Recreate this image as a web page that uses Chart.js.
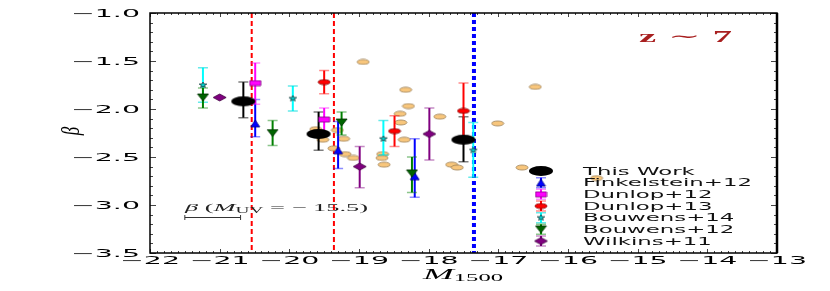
<!DOCTYPE html>
<html>
<head>
<meta charset="utf-8">
<script src="https://cdn.jsdelivr.net/npm/chart.js"></script>
<style>
  html, body { margin: 0; padding: 0; background: #fff; }
  #wrap { width: 830px; height: 291px; }
</style>
</head>
<body>
<div id="wrap"><canvas id="betaChart" width="830" height="291"></canvas></div>
<script>
// UV slope beta against M1500 at z ~ 7

// axes
const xMin = -22, xMax = -13;
const yMin = -3.5, yMax = -1.0;
const xTickValues = [-22, -21, -20, -19, -18, -17, -16, -15, -14, -13];
const xTickLabels = ['−22', '−21', '−20', '−19', '−18', '−17', '−16', '−15', '−14', '−13'];
const yTickValues = [-1.0, -1.5, -2.0, -2.5, -3.0, -3.5];
const yTickLabels = ['−1.0', '−1.5', '−2.0', '−2.5', '−3.0', '−3.5'];

// This Work
const thisWorkM = [-20.66, -19.58, -17.50];
const thisWorkBeta = [-1.92, -2.26, -2.32];
const thisWorkHi = [-1.72, -2.03, -2.08];
const thisWorkLo = [-2.09, -2.43, -2.55];

// Finkelstein+12
const fink12M = [-20.49, -19.30, -18.20];
const fink12Beta = [-2.15, -2.43, -2.70];
const fink12Hi = [-1.90, -2.13, -2.31];
const fink12Lo = [-2.29, -2.62, -2.92];

// Dunlop+12
const dun12M = [-20.49, -19.50];
const dun12Beta = [-1.73, -2.11];
const dun12Hi = [-1.52, -1.99];
const dun12Lo = [-1.95, -2.25];

// Dunlop+13
const dun13M = [-19.50, -18.49, -17.50];
const dun13Beta = [-1.72, -2.23, -2.02];
const dun13Hi = [-1.60, -2.07, -1.73];
const dun13Lo = [-1.84, -2.39, -2.30];

// Bouwens+14
const bou14M = [-21.24, -19.95, -18.65, -17.36];
const bou14Beta = [-1.75, -1.89, -2.31, -2.43];
const bou14Hi = [-1.57, -1.76, -2.12, -2.14];
const bou14Lo = [-1.93, -2.02, -2.48, -2.71];

// Bouwens+12
const bou12M = [-21.24, -20.24, -19.25, -18.24];
const bou12Beta = [-1.88, -2.25, -2.14, -2.67];
const bou12Hi = [-1.78, -2.12, -2.03, -2.50];
const bou12Lo = [-1.99, -2.38, -2.27, -2.87];

// Wilkins+11
const wil11M = [-21.00, -18.99, -17.99];
const wil11Beta = [-1.88, -2.60, -2.26];
const wil11Hi = [-1.88, -2.39, -1.99];
const wil11Lo = [-1.88, -2.82, -2.53];

// individual galaxies
const galM = [-18.94, -18.33, -18.29, -18.41, -18.40, -17.84, -18.35, -16.47, -17.01, -19.62, -19.52, -19.31,
              -19.22, -19.36, -19.20, -19.08, -18.66, -18.67, -18.64, -17.67, -17.59, -16.66, -15.59];
const galBeta = [-1.51, -1.80, -1.97, -2.05, -2.14, -2.08, -2.32, -1.77, -2.15, -2.21, -2.32, -2.22,
                 -2.31, -2.41, -2.47, -2.51, -2.47, -2.51, -2.58, -2.58, -2.61, -2.61, -2.72];

// vertical limits
const redLimits = [-20.54, -19.36];
const blueLimit = -17.35;

// systematic bar at M_UV = -15.5
const sysM = [-21.50, -20.70];
const sysBeta = -3.13;

function marker(shape, w, h, fill, edge) {
  const c = document.createElement('canvas');
  c.width = w + 2; c.height = h + 2;
  const g = c.getContext('2d');
  const cx = c.width / 2, cy = c.height / 2;
  g.beginPath();
  if (shape === 'ellipse') {
    g.ellipse(cx, cy, w / 2, h / 2, 0, 0, Math.PI * 2);
  } else if (shape === 'rect') {
    g.rect(cx - w / 2, cy - h / 2, w, h);
  } else if (shape === 'up') {
    g.moveTo(cx, cy - h / 2); g.lineTo(cx + w / 2, cy + h / 2); g.lineTo(cx - w / 2, cy + h / 2); g.closePath();
  } else if (shape === 'down') {
    g.moveTo(cx, cy + h / 2); g.lineTo(cx + w / 2, cy - h / 2); g.lineTo(cx - w / 2, cy - h / 2); g.closePath();
  } else if (shape === 'diamond') {
    g.moveTo(cx, cy - h / 2); g.lineTo(cx + w / 2, cy); g.lineTo(cx, cy + h / 2); g.lineTo(cx - w / 2, cy); g.closePath();
  } else if (shape === 'star') {
    for (let i = 0; i < 10; i++) {
      const r = i % 2 === 0 ? 1 : 0.45;
      const a = -Math.PI / 2 + i * Math.PI / 5;
      const px = cx + Math.cos(a) * r * w / 2, py = cy + Math.sin(a) * r * h / 2;
      if (i === 0) g.moveTo(px, py); else g.lineTo(px, py);
    }
    g.closePath();
  }
  g.fillStyle = fill; g.fill();
  if (edge) { g.strokeStyle = edge; g.lineWidth = 0.8; g.stroke(); }
  return c;
}

const series = [
  { label: 'This Work', M: thisWorkM, beta: thisWorkBeta, hi: thisWorkHi, lo: thisWorkLo,
    line: '#000000', cap: 'rgba(0,0,0,0.5)', style: marker('ellipse', 24, 10, '#000000', null) },
  { label: 'Finkelstein+12', M: fink12M, beta: fink12Beta, hi: fink12Hi, lo: fink12Lo,
    line: '#0000ff', cap: 'rgba(0,0,255,0.45)', style: marker('up', 9, 7, '#0000ff', '#000080') },
  { label: 'Dunlop+12', M: dun12M, beta: dun12Beta, hi: dun12Hi, lo: dun12Lo,
    line: '#ff00ff', cap: 'rgba(255,0,255,0.45)', style: marker('rect', 11, 5, '#ff00ff', '#800080') },
  { label: 'Dunlop+13', M: dun13M, beta: dun13Beta, hi: dun13Hi, lo: dun13Lo,
    line: '#ff0000', cap: 'rgba(255,0,0,0.45)', style: marker('ellipse', 12, 5, '#ff0000', '#800000') },
  { label: 'Bouwens+14', M: bou14M, beta: bou14Beta, hi: bou14Hi, lo: bou14Lo,
    line: '#00ffff', cap: 'rgba(0,220,220,0.6)', style: marker('star', 8, 6, '#00c8c8', '#204040') },
  { label: 'Bouwens+12', M: bou12M, beta: bou12Beta, hi: bou12Hi, lo: bou12Lo,
    line: '#008000', cap: 'rgba(0,128,0,0.45)', style: marker('down', 11, 7, '#006400', '#003000') },
  { label: 'Wilkins+11', M: wil11M, beta: wil11Beta, hi: wil11Hi, lo: wil11Lo,
    line: '#800080', cap: 'rgba(128,0,128,0.45)', style: marker('diamond', 13, 7, '#800080', '#400040') }
];

const galStyle = marker('ellipse', 12, 5, '#f8c67c', '#9c8058');

const datasets = [];
redLimits.forEach(v => datasets.push({
  type: 'line', data: [{ x: v, y: yMax }, { x: v, y: yMin }],
  borderColor: '#ff0000', borderWidth: 2, borderDash: [5, 3], pointRadius: 0, order: 30
}));
datasets.push({
  type: 'line', data: [{ x: blueLimit, y: yMax }, { x: blueLimit, y: yMin }],
  borderColor: '#0000ff', borderWidth: 4, borderDash: [4, 3], pointRadius: 0, order: 30
});
const galIndex = datasets.length;
datasets.push({
  label: 'galaxies', data: galM.map((m, i) => ({ x: m, y: galBeta[i] })),
  pointStyle: galStyle, pointRadius: 6, order: 20
});
series.forEach((s, k) => datasets.push({
  label: s.label, data: s.M.map((m, i) => ({ x: m, y: s.beta[i] })),
  pointStyle: s.style, pointRadius: 6, order: 10 - k
}));

function stretchText(ctx, str, x, y, font, sx, align) {
  ctx.save();
  ctx.font = font;
  const w = ctx.measureText(str).width * sx;
  let x0 = x;
  if (align === 'center') x0 = x - w / 2;
  else if (align === 'right') x0 = x - w;
  ctx.translate(x0, y);
  ctx.scale(sx, 1);
  ctx.textAlign = 'left';
  ctx.textBaseline = 'alphabetic';
  ctx.fillText(str, 0, 0);
  ctx.restore();
}

// pieces of mixed fonts fitted to a given width
function richText(ctx, parts, x, y, width) {
  ctx.save();
  let total = 0;
  parts.forEach(p => { ctx.font = p.font; p.w = ctx.measureText(p.t).width; total += p.w; });
  const sx = width / total;
  ctx.translate(x, y);
  ctx.scale(sx, 1);
  ctx.textAlign = 'left';
  ctx.textBaseline = 'alphabetic';
  let cx = 0;
  parts.forEach(p => { ctx.font = p.font; ctx.fillText(p.t, cx, p.dy || 0); cx += p.w; });
  ctx.restore();
}

function drawErrorBar(ctx, px, pyHi, pyLo, s) {
  ctx.strokeStyle = s.line; ctx.lineWidth = 2;
  ctx.beginPath(); ctx.moveTo(px, pyHi); ctx.lineTo(px, pyLo); ctx.stroke();
  ctx.strokeStyle = s.cap; ctx.lineWidth = 1.5;
  ctx.beginPath();
  ctx.moveTo(px - 5, pyHi); ctx.lineTo(px + 5, pyHi);
  ctx.moveTo(px - 5, pyLo); ctx.lineTo(px + 5, pyLo);
  ctx.stroke();
}

const decor = {
  id: 'decor',
  afterDatasetDraw(chart, args) {
    if (args.index !== galIndex) return;
    const { ctx, scales: { x, y } } = chart;
    ctx.save();
    series.forEach(s => {
      s.M.forEach((m, i) => {
        if (s.hi[i] === s.lo[i]) return;
        drawErrorBar(ctx, x.getPixelForValue(m), y.getPixelForValue(s.hi[i]), y.getPixelForValue(s.lo[i]), s);
      });
    });
    ctx.restore();
  },
  afterDraw(chart) {
    const { ctx, chartArea: a, scales: { x, y } } = chart;
    ctx.save();

    // minor / major ticks, pointing inwards
    ctx.strokeStyle = '#444'; ctx.lineWidth = 1;
    ctx.beginPath();
    for (let v = xMin * 10; v <= xMax * 10; v++) {
      const px = Math.round(x.getPixelForValue(v / 10)) + 0.5;
      const len = v % 10 === 0 ? 4 : 2;
      ctx.moveTo(px, a.top); ctx.lineTo(px, a.top + len);
      ctx.moveTo(px, a.bottom); ctx.lineTo(px, a.bottom - len);
    }
    for (let v = yMin * 10; v <= yMax * 10; v++) {
      const py = Math.round(y.getPixelForValue(v / 10)) + 0.5;
      const len = v % 5 === 0 ? 6 : 3;
      ctx.moveTo(a.left, py); ctx.lineTo(a.left + len, py);
      ctx.moveTo(a.right, py); ctx.lineTo(a.right - len, py);
    }
    ctx.stroke();

    // frame
    ctx.strokeStyle = '#000';
    ctx.lineWidth = 1.5;
    ctx.strokeRect(a.left, a.top, a.right - a.left, a.bottom - a.top);
    ctx.lineWidth = 2.5;
    ctx.beginPath(); ctx.moveTo(a.right, a.top); ctx.lineTo(a.right, a.bottom); ctx.stroke();

    // tick labels
    ctx.fillStyle = '#000';
    const tickFont = '10px "DejaVu Sans"';
    ctx.font = tickFont;
    const tickSx = 60 / ctx.measureText('−22').width;
    xTickValues.forEach((v, i) => stretchText(ctx, xTickLabels[i], x.getPixelForValue(v), 264, tickFont, tickSx, 'center'));
    yTickValues.forEach((v, i) => stretchText(ctx, yTickLabels[i], 140, y.getPixelForValue(v) + 3.5, tickFont, tickSx, 'right'));

    // axis titles
    richText(ctx, [
      { t: 'M', font: 'italic 15px "Liberation Serif"' },
      { t: '1500', font: '10px "Liberation Serif"', dy: 2 }
    ], 423, 279, 80);
    ctx.save();
    ctx.translate(72, 131);
    ctx.scale(1.5, 1);
    ctx.rotate(-Math.PI / 2);
    ctx.font = 'italic 17px "Liberation Serif"';
    ctx.textAlign = 'center';
    ctx.textBaseline = 'middle';
    ctx.fillText('β', 0, 0);
    ctx.restore();

    // redshift tag
    ctx.fillStyle = '#a81f1f';
    richText(ctx, [
      { t: 'z', font: 'bold 17px "Liberation Serif"' },
      { t: ' ∼ ', font: '17px "DejaVu Serif"' },
      { t: '7', font: 'bold 17px "Liberation Serif"' }
    ], 639, 41.5, 93);

    // systematic bar + label
    ctx.fillStyle = '#222';
    richText(ctx, [
      { t: 'β', font: 'italic 11px "Liberation Serif"' },
      { t: ' (', font: '11px "Liberation Serif"' },
      { t: 'M', font: 'italic 11px "Liberation Serif"' },
      { t: 'UV', font: '8px "Liberation Serif"', dy: 2 },
      { t: ' = − 15.5)', font: '11px "Liberation Serif"' }
    ], 185, 211, 183);
    const sx0 = x.getPixelForValue(sysM[0]), sx1 = x.getPixelForValue(sysM[1]);
    const sy = Math.round(y.getPixelForValue(sysBeta)) + 0.5;
    ctx.strokeStyle = '#333'; ctx.lineWidth = 1;
    ctx.beginPath();
    ctx.moveTo(sx0, sy); ctx.lineTo(sx1, sy);
    ctx.moveTo(sx0, sy - 2.5); ctx.lineTo(sx0, sy + 2.5);
    ctx.moveTo(sx1, sy - 2.5); ctx.lineTo(sx1, sy + 2.5);
    ctx.stroke();

    // legend
    const legFont = '10px "DejaVu Sans"';
    ctx.font = legFont;
    const legSx = 169 / ctx.measureText('Finkelstein+12').width;
    series.forEach((s, i) => {
      const ly = 171 + i * 11.67;
      if (i > 0) drawErrorBar(ctx, 541, ly - 5, ly + 5, s);
      ctx.drawImage(s.style, 541 - s.style.width / 2, ly - s.style.height / 2);
      ctx.fillStyle = '#111';
      stretchText(ctx, s.label, 583, ly + 3.5, legFont, legSx, 'left');
    });

    ctx.restore();
  }
};

new Chart(document.getElementById('betaChart').getContext('2d'), {
  type: 'scatter',
  data: { datasets: datasets },
  options: {
    responsive: false,
    animation: false,
    layout: { padding: { left: 150, top: 13, right: 53, bottom: 38 } },
    scales: {
      x: { type: 'linear', min: xMin, max: xMax, display: false },
      y: { type: 'linear', min: yMin, max: yMax, display: false }
    },
    plugins: { legend: { display: false }, tooltip: { enabled: false } }
  },
  plugins: [decor]
});
</script>
</body>
</html>
